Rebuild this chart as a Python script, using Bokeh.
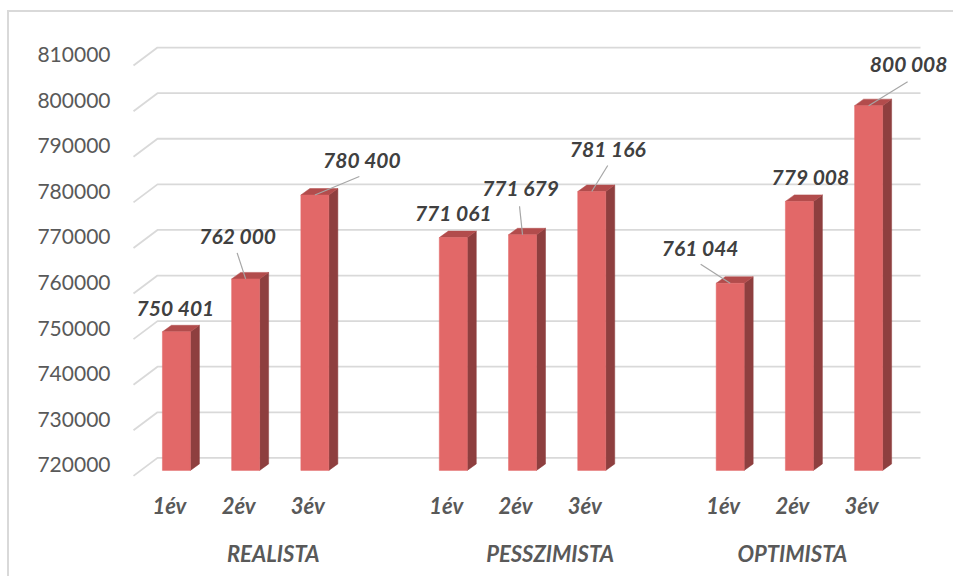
from bokeh.plotting import figure
from bokeh.models import (Range1d, LinearAxis, FixedTicker, ColumnDataSource,
                          NumeralTickFormatter)
from bokeh.core.properties import value
from bokeh.embed import file_html
from bokeh.resources import INLINE

# ---- data -------------------------------------------------------------
groups = ["REALISTA", "PESSZIMISTA", "OPTIMISTA"]
years = ["1év", "2év", "3év"]
realista = [750401, 762000, 780400]
pesszimista = [771061, 771679, 781166]
optimista = [761044, 779008, 800008]
y_ticks = [720000, 730000, 740000, 750000, 760000, 770000, 780000, 790000, 800000, 810000]

# ---- label placement (screen pixels relative to the bar's top centre) ---
label_dx = [-1, -8, 47, 0, -2, 16, -30, 11, 40]
label_dy = [-24, -43, -36, -25, -47, -43, -36, -25, -42]
leader_dx = [None, -8.5, 44.5, None, -3, 16, -29.5, None, 39]
leader_dy = [None, -26, -18.5, None, -28.5, -26, -19, None, -24]

# ---- geometry (page pixels) ----------------------------------------------
PAGE_W, PAGE_H = 955, 578
OX, OY = 9, 12                      # canvas offset inside the bordered area
W, H = PAGE_W - OX, PAGE_H - OY     # canvas size
LEFT, TOP, BOTTOM = 124 - OX, 14 - OY, 479 - OY
RIGHT = W
SLOT = 69.22                        # pixels per category slot
X0 = -0.25
X1 = X0 + (RIGHT - LEFT) / SLOT
X_GRID_END = X0 + (920 - OX - LEFT) / SLOT
Y0, Y1 = 718000, 820000
BASE = 720000
PX_X = SLOT
PX_Y = (BOTTOM - TOP) / (Y1 - Y0)


def dx(px):
    return px / PX_X


def dy(px):
    # screen pixels (downwards positive) -> data units
    return -px / PX_Y


series = [realista, pesszimista, optimista]
centers, values = [], []
group_centers = []
slot = 0
for gi, vals in enumerate(series):
    first = slot
    for v in vals:
        centers.append(slot + 0.5)
        values.append(v)
        slot += 1
    # a group's caption spans the empty slot that follows it
    last = slot if gi < len(series) - 1 else slot - 1
    group_centers.append((first + last) / 2 + 0.5)
    slot += 1

p = figure(width=W, height=H, output_backend="svg", toolbar_location=None,
           x_range=Range1d(X0, X1), y_range=Range1d(Y0, Y1),
           min_border_left=LEFT, min_border_right=0,
           min_border_top=TOP, min_border_bottom=H - BOTTOM,
           x_axis_type=None, y_axis_type=None,
           margin=(OY, 0, 0, OX),
           styles={"box-shadow": "-2px -2px 0 0 #D9D9D9"})
p.outline_line_color = None
p.xgrid.visible = False
p.ygrid.visible = False
p.background_fill_color = "white"
p.border_fill_color = "white"

# ---- back wall gridlines with their slanted floor ends -----------------
grid_xs, grid_ys = [], []
for t in y_ticks:
    back = t + dy(-12.5)
    front = t + dy(5.5)
    grid_xs.append([X0 + dx(133 - OX - LEFT), X0 + dx(157 - OX - LEFT), X_GRID_END])
    grid_ys.append([front, back, back])
p.multi_line(grid_xs, grid_ys, line_color="#D9D9D9", line_width=1.8)

# ---- 3D bars ------------------------------------------------------------
bw = dx(28)
ddx, ddy = dx(9), dy(-6.5)
side_xs, side_ys, top_xs, top_ys = [], [], [], []
for c, v in zip(centers, values):
    xl, xr = c - bw / 2, c + bw / 2
    side_xs.append([xr, xr + ddx, xr + ddx, xr])
    side_ys.append([BASE, BASE + ddy, v + ddy, v])
    top_xs.append([xl, xl + ddx, xr + ddx, xr])
    top_ys.append([v, v + ddy, v + ddy, v])

p.patches(side_xs, side_ys, fill_color="#8E3F3F", line_color="#8E3F3F", line_width=0.5)
p.patches(top_xs, top_ys, fill_color="#B24C4C", line_color="#B24C4C", line_width=0.5)
p.vbar(x=centers, top=values, bottom=BASE, width=bw,
       fill_color="#E26868", line_color="#E26868", line_width=0.5)

# ---- value labels and leader lines -------------------------------------
lab = ColumnDataSource(dict(
    x=[c + dx(a) for c, a in zip(centers, label_dx)],
    y=[v + dy(b) for v, b in zip(values, label_dy)],
    text=[f"{v:,}".replace(",", " ") for v in values],
))
p.text(x="x", y="y", text="text", source=lab, text_align="center",
       text_baseline="middle", text_font=value("Lato"), text_font_size="21px",
       text_font_style="bold italic", text_color="#404040")

x0s, y0s, x1s, y1s = [], [], [], []
for c, v, a, b in zip(centers, values, leader_dx, leader_dy):
    if a is None:
        continue
    x0s.append(c + dx(a))
    y0s.append(v + dy(b))
    x1s.append(c)
    y1s.append(v)
p.segment(x0=x0s, y0=y0s, x1=x1s, y1=y1s, line_color="#A6A6A6", line_width=1.2)

# ---- axes ---------------------------------------------------------------
shift_y = dy(-5.5)
p.extra_y_ranges = {"lab": Range1d(Y0 - shift_y, Y1 - shift_y)}
yax = LinearAxis(y_range_name="lab", ticker=FixedTicker(ticks=y_ticks),
                 formatter=NumeralTickFormatter(format="0"))
yax.axis_line_color = None
yax.major_tick_line_color = None
yax.minor_tick_line_color = None
yax.major_label_standoff = 8
yax.major_label_text_font = "Lato"
yax.major_label_text_font_size = "21px"
yax.major_label_text_color = "#595959"
p.add_layout(yax, "left")

shift_x = dx(7)
p.extra_x_ranges = {"lab": Range1d(X0 + shift_x, X1 + shift_x)}

year_ax = LinearAxis(x_range_name="lab", ticker=FixedTicker(ticks=centers))
year_ax.major_label_overrides = {c: years[i % 3] for i, c in enumerate(centers)}
group_ax = LinearAxis(x_range_name="lab", ticker=FixedTicker(ticks=group_centers))
group_ax.major_label_overrides = {c: g for c, g in zip(group_centers, groups)}
for ax, standoff in ((year_ax, 6), (group_ax, 12)):
    ax.axis_line_color = None
    ax.major_tick_line_color = None
    ax.minor_tick_line_color = None
    ax.major_label_standoff = standoff
    ax.major_label_text_font = "Lato"
    ax.major_label_text_font_size = "22px"
    ax.major_label_text_font_style = "bold italic"
    ax.major_label_text_color = "#595959"
    p.add_layout(ax, "below")

open("out.html", "w").write(file_html(p, INLINE))
